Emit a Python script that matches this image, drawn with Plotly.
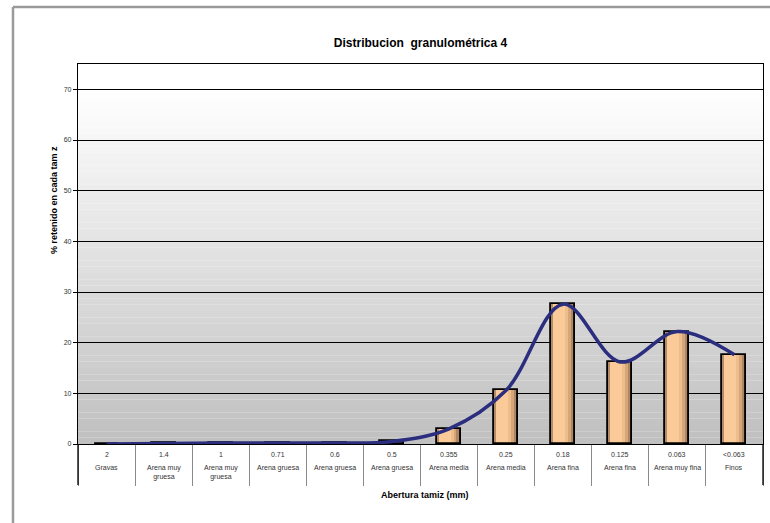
import plotly.graph_objects as go

# Sieve openings (mm), fraction names and % retained on each sieve
aberturas = ["2", "1.4", "1", "0.71", "0.6", "0.5", "0.355", "0.25", "0.18", "0.125", "0.063", "<0.063"]
fracciones = ["Gravas", "Arena muy<br>gruesa", "Arena muy<br>gruesa", "Arena gruesa", "Arena gruesa",
              "Arena gruesa", "Arena media", "Arena media", "Arena fina", "Arena fina",
              "Arena muy fina", "Finos"]
retenido = [0.0, 0.1, 0.2, 0.2, 0.2, 0.5, 3.0, 10.6, 27.6, 16.2, 22.2, 17.6]

y_max = 75
y_ticks = [0, 10, 20, 30, 40, 50, 60, 70]

fig = go.Figure()

# Bars: a peach body, darker shading strips, then a black outline on top
bar_w = 0.42
half = bar_w / 2
fig.add_trace(go.Bar(x=aberturas, y=retenido, width=bar_w, offset=-half,
                     marker=dict(color="#FACB99", line=dict(width=0)), hoverinfo="skip"))
shading = [(-half, 0.03, "#B48B68"), (0.03, 0.05, "#EDBD8C"), (0.08, 0.05, "#D5A67A"),
           (0.13, 0.04, "#AE8662"), (0.17, 0.04, "#7E5F45")]
for off, w, col in shading:
    fig.add_trace(go.Bar(x=aberturas, y=retenido, width=w, offset=off,
                         marker=dict(color=col, line=dict(width=0)), hoverinfo="skip"))
fig.add_trace(go.Bar(x=aberturas, y=retenido, width=bar_w, offset=-half,
                     marker=dict(color="rgba(0,0,0,0)", line=dict(color="#000000", width=1.8)),
                     hoverinfo="skip"))

# Smoothed distribution curve through the bar tops
fig.add_trace(go.Scatter(x=aberturas, y=retenido, mode="lines",
                         line=dict(color="#2B2E7E", width=3.5, shape="spline", smoothing=1.0),
                         hoverinfo="skip"))

# Vertical grey-to-white wash behind the plot area
shapes = []
n_strips = 60
for i in range(n_strips):
    t = i / n_strips
    g = int(round(0xC0 + (0xFF - 0xC0) * min(1.0, t * 1.08)))
    shapes.append(dict(type="rect", xref="paper", yref="paper", x0=0, x1=1,
                       y0=t, y1=(i + 1) / n_strips, layer="below",
                       fillcolor=f"rgb({g},{g},{g})", line=dict(width=0)))

# Left/right edges of the label table below the axis
table_depth = 41 / 380
for xp in (0, 1):
    shapes.append(dict(type="line", xref="paper", yref="paper", x0=xp, x1=xp,
                       y0=0, y1=-table_depth, line=dict(color="#000000", width=1.3)))

# Outer chart frame (left and top edges)
fx = (13 - 78) / 685
fy = (444 - 7) / 380
shapes.append(dict(type="line", xref="paper", yref="paper", x0=fx, x1=fx, y0=fy, y1=-79 / 380,
                   line=dict(color="#9A9A9A", width=2.5)))
shapes.append(dict(type="line", xref="paper", yref="paper", x0=fx, x1=(770 - 78) / 685, y0=fy, y1=fy,
                   line=dict(color="#9A9A9A", width=2.5)))

# Two-line category labels: opening size and fraction name
label_font = dict(family="Liberation Sans", size=7, color="#333333")
annotations = []
for i, (a, f) in enumerate(zip(aberturas, fracciones)):
    annotations.append(dict(x=i, y=0, xref="x", yref="paper", yanchor="top", yshift=-5,
                            text=a, showarrow=False, font=label_font))
    annotations.append(dict(x=i, y=0, xref="x", yref="paper", yanchor="top", yshift=-18,
                            text=f, showarrow=False, font=label_font))

annotations.append(dict(x=(47 - 78) / 685, y=0.642, xref="paper", yref="paper", textangle=-90,
                        text="<b>% retenido en cada tam z</b>", showarrow=False,
                        font=dict(family="Liberation Sans", size=9, color="#000000")))
annotations.append(dict(x=(425 - 78) / 685, y=-0.153, xref="paper", yref="paper",
                        text="<b>Abertura tamiz (mm)</b>", showarrow=False,
                        font=dict(family="Liberation Sans", size=9, color="#000000")))

fig.update_layout(
    width=770, height=523,
    margin=dict(l=78, r=7, t=64, b=79),
    paper_bgcolor="#FFFFFF",
    plot_bgcolor="rgba(0,0,0,0)",
    barmode="overlay",
    bargap=0,
    showlegend=False,
    title=dict(text="<b>Distribucion  granulométrica 4</b>", x=0.5, xref="paper",
               y=1 - 43 / 523, yanchor="middle",
               font=dict(family="Liberation Sans", size=12, color="#000000")),
    shapes=shapes,
    annotations=annotations,
    xaxis=dict(type="category", categoryorder="array", categoryarray=aberturas,
               range=[-0.5, len(aberturas) - 0.5],
               showticklabels=False, ticks="outside", tickson="boundaries",
               ticklen=41, tickwidth=1.3, tickcolor="#8A8A8A",
               showgrid=False, showline=True, linecolor="#000000", linewidth=1.3,
               mirror=True, zeroline=False),
    yaxis=dict(range=[0, y_max], tickvals=y_ticks, ticks="outside", ticklen=4,
               tickcolor="#000000", tickfont=dict(family="Liberation Sans", size=7, color="#333333"),
               showgrid=True, gridcolor="#000000", gridwidth=1,
               showline=True, linecolor="#000000", linewidth=1.3, mirror=True,
               zeroline=False),
)

fig.write_html("out.html")
